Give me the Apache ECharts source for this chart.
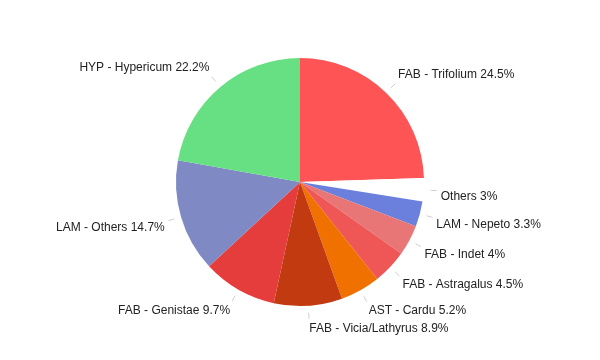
<!DOCTYPE html>
<html>
<head>
<meta charset="utf-8">
<script src="https://cdn.jsdelivr.net/npm/echarts@6/dist/echarts.min.js"></script>
<style>
  html, body { margin: 0; padding: 0; background: #fff; }
  #chart { width: 600px; height: 360px; }
</style>
</head>
<body>
<div id="chart"></div>
<script>
// categories / values, clockwise from the top
const names = [
  'FAB - Trifolium',
  'Others',
  'LAM - Nepeto',
  'FAB - Indet',
  'FAB - Astragalus',
  'AST - Cardu',
  'FAB - Vicia/Lathyrus',
  'FAB - Genistae',
  'LAM - Others',
  'HYP - Hypericum'
];
const values = [24.5, 3, 3.3, 4, 4.5, 5.2, 8.9, 9.7, 14.7, 22.2];
const colors = [
  '#ff5456', '#ffffff', '#6a80dc', '#e87676', '#ef5656',
  '#f07000', '#c23a10', '#e53d3b', '#7f89c4', '#66e082'
];

const cx = 300, cy = 182, radius = 124;

// mid angle of each slice (radians, clockwise from 12 o'clock)
const total = values.reduce((a, b) => a + b, 0);
let acc = 0;
const midAngles = values.map(v => {
  const a = (acc + v / 2) / total * Math.PI * 2;
  acc += v;
  return a;
});

// labels sit with their nearest corner on the slice's mid ray,
// short detached tick in between (like the original)
function placeLabel(params) {
  const a = midAngles[params.dataIndex];
  const dx = Math.sin(a), dy = -Math.cos(a);
  const rLabel = radius + 17;
  const r1 = radius + 7, r2 = radius + 13;
  return {
    x: cx + dx * rLabel,
    y: cy + dy * rLabel,
    align: dx >= 0 ? 'left' : 'right',
    verticalAlign: dy >= 0 ? 'top' : 'bottom',
    labelLinePoints: [
      [cx + dx * r1, cy + dy * r1],
      [cx + dx * r2, cy + dy * r2],
      [cx + dx * r2, cy + dy * r2]
    ]
  };
}

const chart = echarts.init(document.getElementById('chart'));

chart.setOption({
  animation: false,
  series: [
    {
      type: 'pie',
      center: [cx, cy],
      radius: radius,
      startAngle: 90,
      clockwise: true,
      avoidLabelOverlap: false,
      data: names.map((n, i) => ({
        name: n,
        value: values[i],
        itemStyle: { color: colors[i] }
      })),
      label: {
        formatter: '{b} {c}%',
        color: '#222',
        fontSize: 12,
        fontFamily: 'Liberation Sans, Arial, sans-serif'
      },
      labelLine: {
        show: true,
        lineStyle: { color: '#cfcfcf', width: 1 }
      },
      labelLayout: placeLabel
    }
  ]
});
</script>
</body>
</html>
